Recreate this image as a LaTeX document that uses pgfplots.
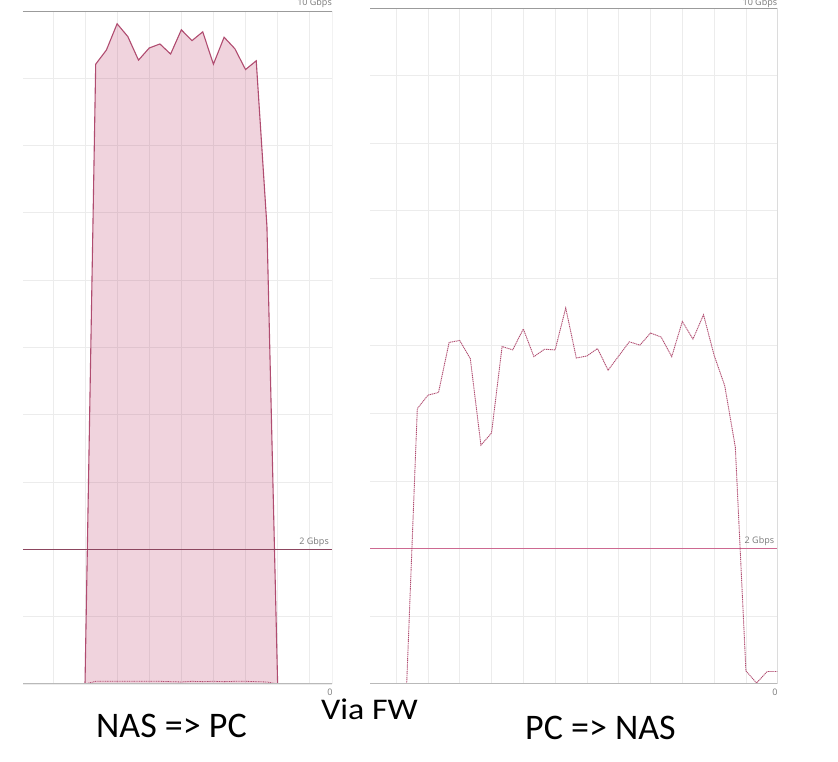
\documentclass[border=0pt]{standalone}
\usepackage{pgfplots}
\pgfplotsset{compat=1.18}
\usepackage{fontspec}
\setmainfont{Carlito}
\newfontfamily\uifont{Open Sans}
\definecolor{lineC}{RGB}{176,76,112}
\definecolor{fillC}{RGB}{185,55,100}
\definecolor{gridC}{RGB}{236,236,236}
\definecolor{frameC}{RGB}{155,155,155}
\definecolor{botC}{RGB}{185,185,185}
\definecolor{refL}{RGB}{140,70,95}
\definecolor{refR}{RGB}{205,105,145}
\definecolor{lblC}{RGB}{120,120,120}
\pgfplotsset{tm/.style={scale only axis, ymin=0, ymax=10,
  ytick={0,...,10}, xticklabels={}, yticklabels={}, major tick length=0pt,
  grid=major, grid style={gridC, line width=0.8pt},
  axis line style={draw=none}, clip=true}}
\begin{document}
\begin{tikzpicture}
\path[use as bounding box] (0pt,0pt) rectangle (838pt,762pt);
% Left panel: NAS => PC
\begin{scope}[shift={(23pt,78pt)}]
\begin{axis}[tm, at={(0pt,0pt)}, anchor=south west, width=309pt, height=673pt,
  xmin=-5.794, xmax=23.08, xtick={-3,0,...,21}]
\addplot[draw=lineC, line width=1.1pt, fill=fillC, fill opacity=0.22, draw opacity=1]
 coordinates {(0,0) (1,9.21) (2,9.42) (3,9.81) (4,9.62) (5,9.27) (6,9.45) (7,9.51)
 (8,9.36) (9,9.72) (10,9.56) (11,9.69) (12,9.21) (13,9.61) (14,9.44) (15,9.13)
 (16,9.26) (17,6.8) (18,0)} \closedcycle;
\addplot[lineC, line width=0.8pt, dash pattern=on 1pt off 0.7pt]
 coordinates {(0,0) (1,0.04) (2,0.04) (3,0.04) (4,0.04) (5,0.04) (6,0.04) (7,0.04)
 (8,0.035) (9,0.03) (10,0.04) (11,0.035) (12,0.04) (13,0.035) (14,0.04) (15,0.04)
 (16,0.035) (17,0.03) (18,0)};
\addplot[refL, line width=1pt] coordinates {(-5.794,2) (23.08,2)};
\draw[frameC, line width=0.9pt] (rel axis cs:0,1) -- (rel axis cs:1,1) -- (rel axis cs:1,0);
\draw[botC, line width=1.3pt] (rel axis cs:1,0) -- (rel axis cs:0,0);
\end{axis}
\end{scope}
% Right panel: PC => NAS
\begin{scope}[shift={(370pt,78.3pt)}]
\begin{axis}[tm, at={(0pt,0pt)}, anchor=south west, width=407.3pt, height=675.7pt,
  xmin=-3.462, xmax=34.96, xtick={-1,2,...,32}]
\addplot[refR, line width=1pt] coordinates {(-3.462,2) (34.96,2)};
\addplot[lineC, line width=0.9pt, dash pattern=on 1.2pt off 0.7pt]
 coordinates {(0,0) (1,4.07) (2,4.27) (3,4.31) (4,5.05) (5,5.08) (6,4.81) (7,3.53)
 (8,3.71) (9,4.99) (10,4.94) (11,5.25) (12,4.84) (13,4.95) (14,4.94) (15,5.56)
 (16,4.82) (17,4.85) (18,4.96) (19,4.64) (20,4.85) (21,5.06) (22,5.01) (23,5.19)
 (24,5.13) (25,4.84) (26,5.36) (27,5.10) (28,5.46) (29,4.86) (30,4.41) (31,3.50)
 (32,0.19) (33,0.01) (34,0.18) (35,0.18)};
\draw[frameC, line width=0.9pt] (rel axis cs:0,1) -- (rel axis cs:1,1) -- (rel axis cs:1,0);
\draw[botC, line width=1.3pt] (rel axis cs:1,0) -- (rel axis cs:0,0);
\end{axis}
\end{scope}
% small grey labels
\begin{scope}[every node/.style={font=\uifont\fontsize{9}{10}\selectfont, text=lblC, inner sep=0pt}]
\node[anchor=base east] at (332pt,756.5pt) {10 Gbps};
\node[anchor=base east] at (329pt,217.3pt) {2 Gbps};
\node[anchor=base] at (330pt,66pt) {0};
\node[anchor=base east] at (777.3pt,756pt) {10 Gbps};
\node[anchor=base east] at (774.3pt,218pt) {2 Gbps};
\node[anchor=base] at (775pt,66pt) {0};
\end{scope}
% captions
\node[font=\fontsize{36}{40}\selectfont, anchor=base west, inner sep=0pt] at (96pt,24.3pt) {NAS => PC};
\node[anchor=base west, inner sep=0pt] at (321pt,42.7pt) {\scalebox{1.13}[1]{\fontsize{30}{34}\selectfont Via FW}};
\node[font=\fontsize{36}{40}\selectfont, anchor=base west, inner sep=0pt] at (525pt,22.3pt) {PC => NAS};
\end{tikzpicture}
\end{document}
